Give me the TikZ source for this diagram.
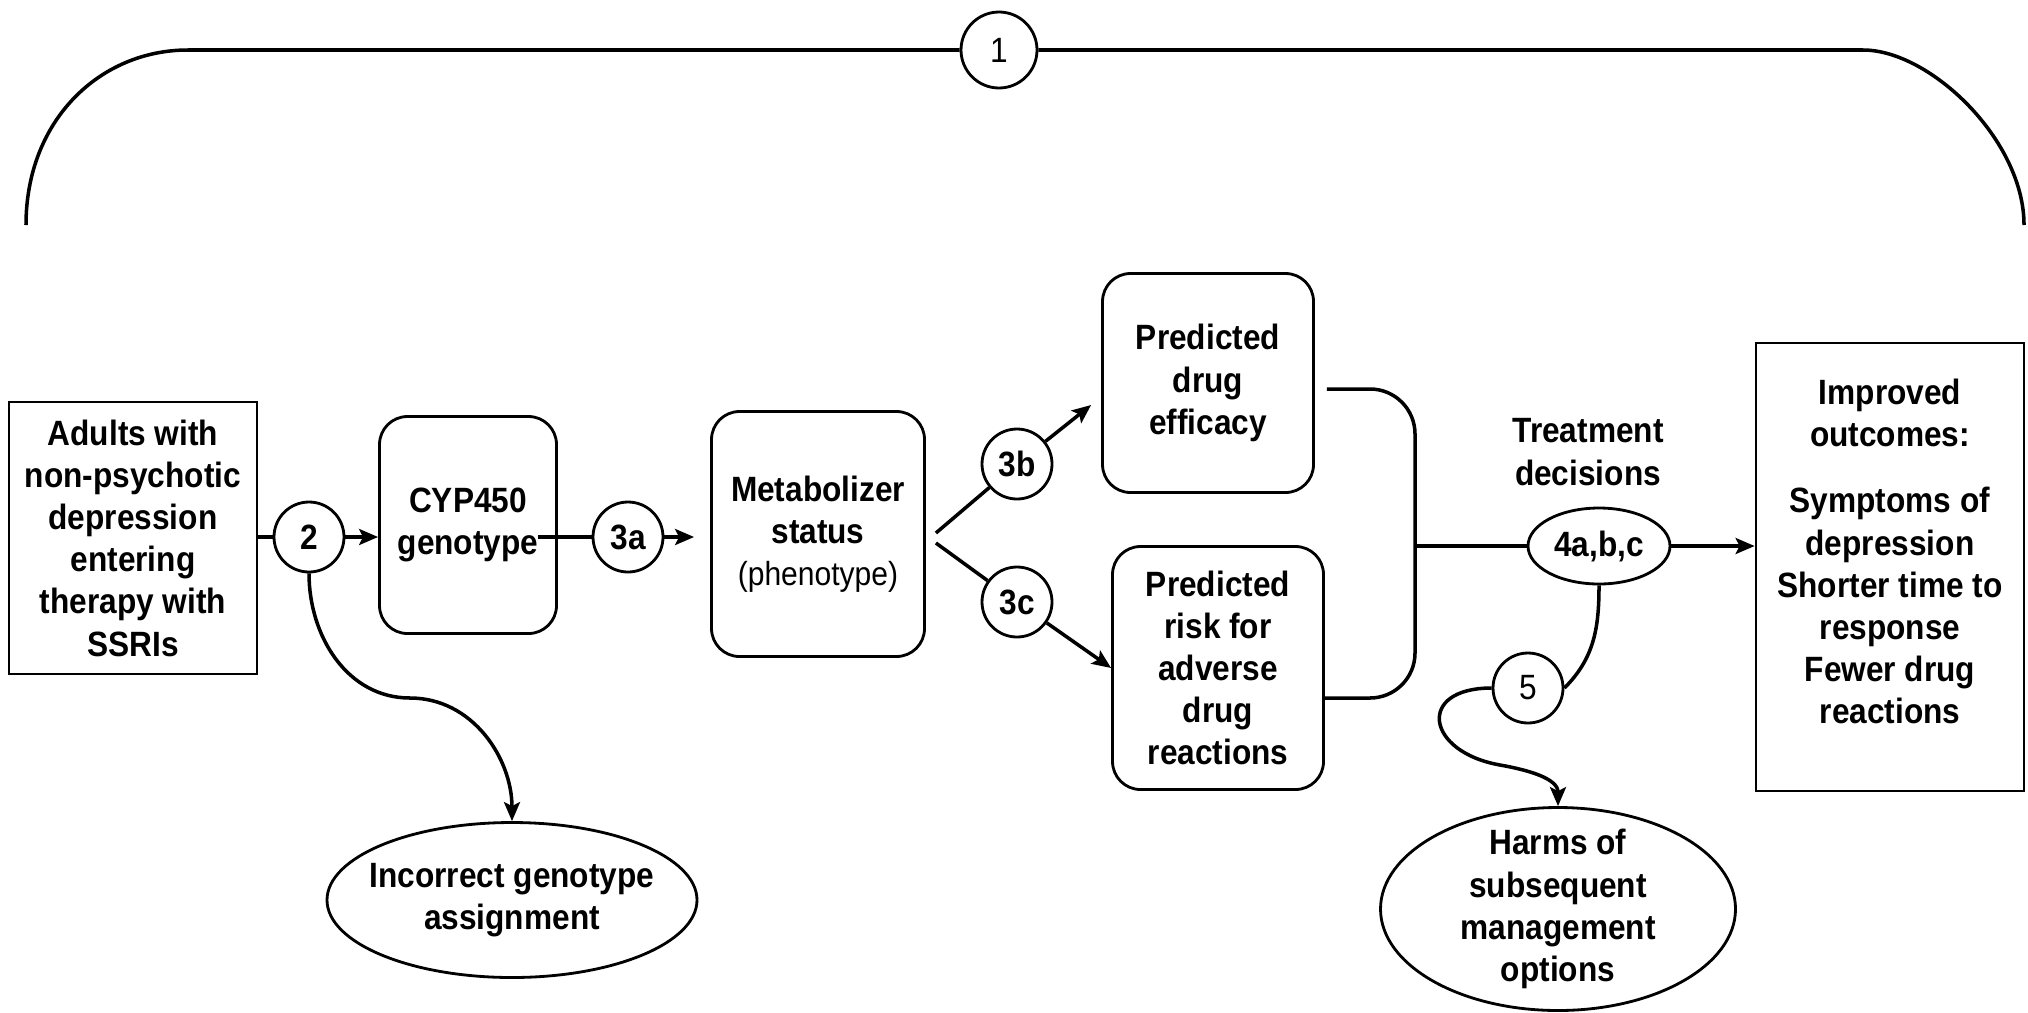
\documentclass[tikz,border=0pt]{standalone}
\usepackage{fontspec}
\setmainfont{Liberation Sans}[FakeStretch = 0.9]
\usepackage{tikz}
\usetikzlibrary{positioning}
\usetikzlibrary{arrows.meta}
\usetikzlibrary{shapes.geometric}
\usetikzlibrary{calc}

\begin{document}
\begin{tikzpicture}[
            x = 0.1mm, y = -0.1mm, % one unit per pixel, y going down
            > = {Stealth[length = 1.9mm, width = 1.6mm, inset = 0.4mm]}, % arrow head style
            line width = 1pt % line style
        ]

        \tikzstyle{every node}=[
            font = \fontsize{10}{12}\selectfont\bfseries,
            align = center,
            inner sep = 0pt
        ]
        \tikzstyle{box}=[draw, thick, rectangle]
        \tikzstyle{rbox}=[box, rounded corners = 2.8mm]
        \tikzstyle{kq}=[draw, thick, circle, minimum size = 7mm]
        \tikzstyle{oval}=[draw, thick, ellipse]

        \useasboundingbox (0,0) rectangle (2028,1012);

        % population and testing
        \node[box, minimum width = 24.8mm, minimum height = 27.2mm] (P) at (133,538) {Adults with\\non-psychotic\\depression\\entering\\therapy with\\SSRIs};
        \node[kq] (Q2) at (309,537) {2};
        \node[rbox, minimum width = 17.7mm, minimum height = 21.7mm] (G) at (468,525) {CYP450\\genotype};
        \node[kq] (Q3a) at (628,537) {3a};
        \node[rbox, minimum width = 21.3mm, minimum height = 24.5mm] (M) at (818,534) {Metabolizer\\status\\{\mdseries\fontsize{9.5}{12}\selectfont(phenotype)}};

        \draw (Q2.west -| P.east) -- (Q2.west);
        \draw[->] (Q2.east) -- (Q2.east -| G.west);
        \draw ($(Q3a.west -| G.east) + (-20,0)$) -- (Q3a.west);
        \draw[->, shorten > = 1.6mm] (Q3a.east) -- (Q3a.east -| M.west);

        % harms of testing
        \node[oval, minimum width = 37mm, minimum height = 15.5mm, inner xsep = -1.5mm] (I) at (512,900) {Incorrect genotype\\assignment};
        \coordinate (K2) at (410,698);
        \draw[->] (Q2.south) to[out=-90, in=180] (K2) to[out=0, in=90] (I.north);

        % predictions
        \node[kq] (Q3b) at (1017,464) {3b};
        \node[kq] (Q3c) at (1017,602) {3c};
        \node[rbox, minimum width = 21.1mm, minimum height = 21.9mm] (E) at (1208,383) {Predicted\\drug\\efficacy};
        \node[rbox, minimum width = 21.1mm, minimum height = 24.3mm] (R) at (1218,668) {Predicted\\risk for\\adverse\\drug\\reactions};

        \draw ($(M.east) + (10,-1)$) -- (Q3b);
        \draw[->] (Q3b) -- ($(E.west) + (-10,22)$);
        \draw ($(M.east) + (10,9)$) -- (Q3c);
        \draw[->] (Q3c) -- (R.west);

        % treatment decisions
        \coordinate (JT) at (1415,389);
        \coordinate (J) at (1415,546);
        \coordinate (JB) at (1415,698);
        \draw[rounded corners = 4.5mm] ($(E.east) + (12,6)$) -- (JT) -- (JB) -- (JB -| R.east);
        \node[oval, minimum width = 14.2mm, minimum height = 7.6mm] (T) at (1599,546) {4a,b,c};
        \node (TD) at (1588,452) {Treatment\\decisions};
        \node[box, minimum width = 26.8mm, minimum height = 44.8mm] (O) at (1890,567) {Improved\\outcomes:\\[7pt]Symptoms of\\depression\\Shorter time to\\response\\Fewer drug\\reactions\\[-3pt]~};
        \draw (J) -- (T);
        \draw[->] (T.east) -- (T.east -| O.west);

        % harms of management
        \node[kq, font = \fontsize{10}{12}\selectfont\mdseries] (Q5) at (1528,688) {5};
        \node[oval, minimum width = 35.5mm, minimum height = 20.3mm, inner ysep = -1.2mm] (H) at (1558,909) {Harms of\\subsequent\\management\\options};
        \coordinate (K5) at (1500,765);
        \draw (T.south) to[out=-90, in=45] (Q5.east);
        \draw[->] (Q5.west) to[out=180, in=170, looseness=2.5] (K5) to[out=-10, in=90] (H.north);

        % overarching question
        \node[kq, minimum size = 7.6mm, font = \fontsize{10}{12}\selectfont\mdseries] (Q1) at (999,50) {1};
        \coordinate (BL) at (26,225);
        \coordinate (TL) at (188,50);
        \coordinate (TR) at (1863,50);
        \coordinate (BR) at (2024,225);
        \draw (BL) .. controls +(0,-105) and +(-88,0) .. (TL) -- (Q1.west);
        \draw (Q1.east) -- (TR) .. controls +(67,0) and +(0,-85) .. (BR);

\end{tikzpicture}
\end{document}
